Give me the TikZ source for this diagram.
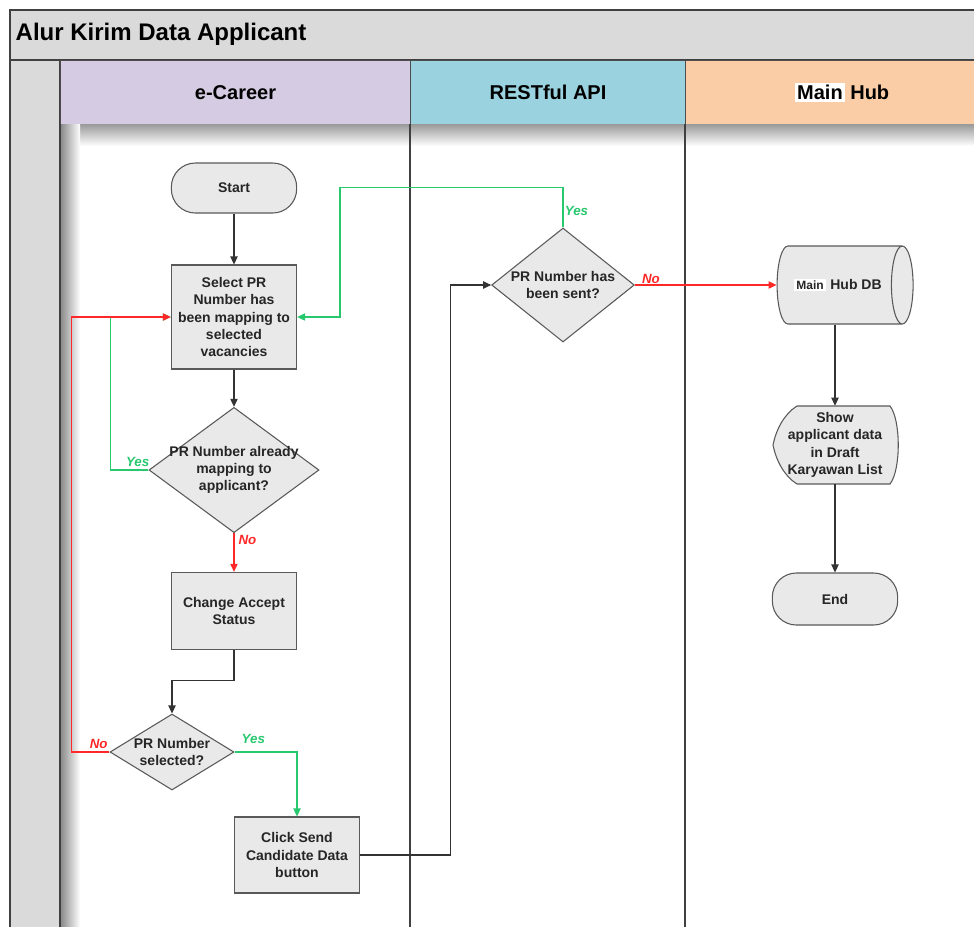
\documentclass[tikz,border=0pt]{standalone}
\usepackage{fontspec}
\setmainfont{Liberation Sans}
\usetikzlibrary{arrows.meta,shapes.geometric}
\setlength{\fboxsep}{1.5pt}
\definecolor{hdrviolet}{RGB}{213,203,226}
\definecolor{hdrblue}{RGB}{155,210,224}
\definecolor{hdrpeach}{RGB}{250,205,166}
\definecolor{bargray}{RGB}{218,218,218}
\definecolor{shapefill}{RGB}{233,233,233}
\definecolor{yesgreen}{RGB}{40,200,110}
\definecolor{nored}{RGB}{255,40,40}
\tikzset{
  shapebase/.style={draw=black!65,line width=0.8pt,fill=shapefill,text=black!85,
    font=\bfseries\fontsize{10.5}{13}\selectfont,align=center,inner sep=1pt},
  process/.style={shapebase,rectangle,minimum width=94pt},
  terminal/.style={shapebase,rectangle,rounded corners=18pt,minimum width=94pt},
  decision/.style={shapebase,diamond,inner sep=0pt},
  store/.style={shapebase,cylinder,aspect=1.4,minimum width=58.5pt,minimum height=102pt},
  dtext/.style={font=\bfseries\fontsize{10.5}{13}\selectfont,text=black!85,align=center},
  flowline/.style={draw=black!80,line width=0.8pt,-{Triangle[length=6pt,width=5.5pt]}},
  yesline/.style={flowline,draw=yesgreen},
  noline/.style={flowline,draw=nored},
  yestext/.style={text=yesgreen,font=\bfseries\itshape\fontsize{10}{12}\selectfont,inner sep=1pt},
  notext/.style={yestext,text=nored},
  lanehead/.style={draw=black!70,line width=0.8pt,anchor=north west,minimum height=48pt,
    font=\bfseries\fontsize{15}{18}\selectfont},
  laneline/.style={draw=black!75,line width=1.1pt}
}
\begin{document}
\begin{tikzpicture}[x=0.75pt,y=-0.75pt]
  \useasboundingbox (0,0) rectangle (974,926);
  \clip (0,0) rectangle (974,926);
  \fill[white] (0,0) rectangle (974,926);
  % frame and title bar
  \draw[laneline,fill=bargray] (10,10) rectangle (990,60);
  \node[anchor=west,font=\bfseries\fontsize{18}{21}\selectfont] (title) at (11,34) {Alur Kirim Data Applicant};
  \draw[laneline,fill=bargray] (10,60) rectangle (60,940);
  % lane headers
  \node[lanehead,fill=hdrviolet,minimum width=262.5pt] (hcareer) at (60,60) {e-Career};
  \node[lanehead,fill=hdrblue,minimum width=206.25pt] (hrest) at (410,60) {RESTful API};
  \node[lanehead,fill=hdrpeach,minimum width=235pt] (hhub) at (685,60) {\colorbox{white}{Main} Hub};
  \shade[top color=black!40,bottom color=white] (60,124) rectangle (990,146);
  \shade[left color=black!45,right color=white] (61,124) rectangle (80,940);
  \foreach \xl in {60,410,685} {
    \draw[laneline] (\xl,124) -- (\xl,940);
  }
  % e-Career
  \node[terminal,minimum height=37.5pt] (start) at (234,188) {Start};
  \node[process,minimum height=78pt] (select) at (234,317)
    {Select PR\\Number has\\been mapping to\\selected\\vacancies};
  \node[decision,minimum width=127.5pt,minimum height=94pt,
    label={[dtext]center:{PR Number already\\mapping to\\applicant?}}] (dmap) at (234,470) {};
  \node[process,minimum height=58pt] (change) at (234,611) {Change Accept\\Status};
  \node[decision,minimum width=93pt,minimum height=57pt,
    label={[dtext]center:{PR Number\\selected?}}] (dsel) at (172,752) {};
  \node[process,minimum height=57pt] (click) at (297,855) {Click Send\\Candidate Data\\button};
  % RESTful API
  \node[decision,minimum width=107pt,minimum height=85.5pt,
    label={[dtext]center:{PR Number has\\been sent?}}] (dsent) at (563,285) {};
  % Main Hub
  \node[store] (db) at (838,285)
    {\colorbox{white}{\fontsize{9}{10}\selectfont Main}\,\,Hub DB};
  \draw[shapebase] (797,406) -- (890,406) .. controls (901,420) and (901,470) .. (890,484)
    -- (797,484) .. controls (784,476) and (776,460) .. (773,445)
    .. controls (776,430) and (784,414) .. (797,406) -- cycle;
  \node[dtext,minimum width=94pt,minimum height=58.5pt,inner sep=0pt] (show) at (835,445)
    {Show\\applicant data\\in Draft\\Karyawan List};
  \node[terminal,minimum height=39pt] (finish) at (835,599) {End};
  % connectors
  \draw[flowline] (start) -- (select);
  \draw[flowline] (select) -- (dmap);
  \draw[yesline] (dmap.west) node[yestext,above left,xshift=2pt,yshift=1pt] {Yes}
    -- ++(-38,0) |- (select.west);
  \draw[noline] (dsel.west) node[notext,above left,yshift=1pt] {No}
    -- ++(-38,0) |- (select.west);
  \draw[noline] (dmap.south) node[notext,below right,xshift=2pt] {No} -- (change.north);
  \draw[flowline] (change.south) -- ++(0,30) -| (dsel.north);
  \draw[yesline] (dsel.east) node[yestext,above right,xshift=4pt,yshift=5pt] {Yes} -| (click.north);
  \draw[flowline] (click.east) -- ++(90,0) |- (dsent.west);
  \draw[yesline] (dsent.north) -- node[yestext,right,pos=0.4] {Yes} ++(0,-40)
    -- ++(-223,0) |- (select.east);
  \draw[noline] (dsent.east) node[notext,above right,xshift=4pt] {No} -- (db.west);
  \draw[flowline] (show.north |- db.south) -- (show.north);
  \draw[flowline] (show.south) -- (finish.north);
\end{tikzpicture}
\end{document}
